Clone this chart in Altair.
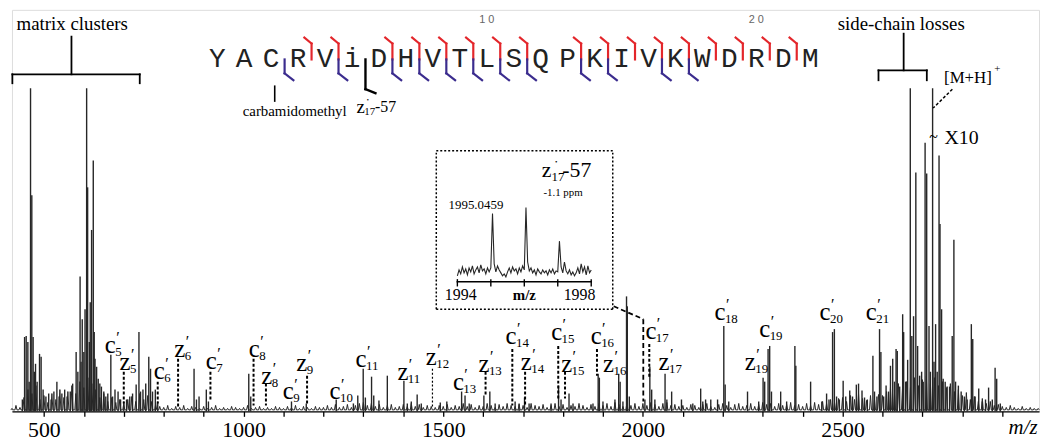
import altair as alt
import pandas as pd

# ------------------------------------------------------------------ data
# baseline noise of the spectrum, one reading every 10 m/z from 420 (relative intensity)
NOISE_MZ0, NOISE_STEP = 420, 10
noise_int = [3, 6, 4, 14, 22, 18, 26, 12,
             16, 9, 18, 12, 22, 14, 20, 26, 18, 30,
             24, 34, 28, 22, 14, 18, 10, 14, 9, 12,
             8, 12, 15, 10, 18, 12, 16, 10, 8, 5,
             4, 6, 3, 5, 4, 6, 3, 5, 4, 3,
             5, 3, 4, 6, 3, 4, 3, 5, 4, 3,
             4, 6, 3, 4, 5, 3, 4, 3, 5, 4,
             3, 5, 4, 6, 3, 5, 4, 3, 5, 4,
             4, 6, 4, 7, 4, 5, 7, 4, 6, 8,
             9, 6, 8, 5, 7, 4, 6, 7, 4, 5,
             7, 5, 8, 5, 7, 4, 6, 5, 4, 6,
             5, 7, 4, 6, 5, 8, 5, 7, 4, 6,
             5, 8, 6, 4, 7, 5, 8, 6, 5, 7,
             6, 4, 8, 6, 5, 7, 4, 6, 8, 5,
             7, 4, 6, 5, 8, 6, 4, 7, 5, 8,
             6, 8, 5, 9, 7, 5, 9, 6, 8, 5,
             8, 6, 9, 7, 5, 8, 9, 6, 7, 5,
             6, 4, 7, 6, 4, 7, 8, 5, 4, 7,
             8, 6, 4, 7, 8, 5, 6, 8, 5, 7,
             9, 7, 8, 5, 8, 6, 7, 9, 6, 7,
             5, 8, 6, 9, 7, 10, 8, 12, 9, 13,
             14, 10, 16, 12, 18, 13, 11, 16, 12, 17,
             16, 20, 24, 18, 28, 22, 30, 24, 34, 26,
             32, 36, 28, 34, 26, 30, 24, 28, 20, 22,
             16, 19, 12, 15, 10, 13, 8, 10, 6, 7,
             5, 4, 6, 4, 3, 5, 3, 4, 3, 3]

# (m/z, intensity) of the resolved peaks
peaks_matrix = [(446, 12), (451.6, 75), (455.6, 76), (459.8, 70), (463, 30), (466.5, 326),
                (469.7, 218), (473, 75), (476, 40), (479, 48), (483, 30), (489, 58), (493, 55),
                (498, 22), (505, 15), (512, 18), (518, 12), (525, 20), (532.5, 30), (538, 15),
                (545, 18), (552, 22), (558, 15), (566, 20), (572, 28), (580.7, 60), (585, 40),
                (590.6, 136), (593, 50), (596, 93), (600, 60), (603, 103), (607, 326),
                (609.5, 226), (613.7, 70), (616, 110), (619.4, 183), (623.6, 253), (626, 80),
                (628, 53), (632, 45), (636, 33), (640, 28), (644, 25), (650, 20), (655, 15),
                (660, 18), (667.6, 57), (672, 15), (678, 22), (685.7, 20), (692, 12), (700, 10),
                (707, 12), (715, 15), (722, 18), (731, 27), (738, 80), (742, 20), (748, 22),
                (755, 28), (762.6, 55), (767, 43), (772, 20), (779, 22), (785, 10)]
peaks_fragments = [(876, 43), (882, 12), (888.5, 15), (906.7, 22), (912, 10), (1013, 38),
                   (1018, 15), (1120, 10), (1157, 8), (1232, 12), (1275, 8), (1286, 16),
                   (1299.6, 43), (1305, 14), (1320.5, 35), (1326, 16), (1339, 11), (1360, 36),
                   (1401.5, 31), (1410, 8), (1420, 10), (1434.7, 17), (1445, 8), (1492.6, 9),
                   (1509, 10), (1546, 20), (1554.6, 16), (1565, 8), (1601.8, 16), (1616.7, 20),
                   (1630, 8), (1680, 10), (1690, 8), (1703.6, 14), (1715, 8), (1770, 8),
                   (1788.8, 26), (1795, 12), (1815, 18), (1825, 8), (1875, 8), (1888, 38),
                   (1891, 34), (1900, 10), (1930, 12), (1939.4, 38), (1943, 30), (1950, 10),
                   (1959, 116), (1961, 106), (1966, 15), (2005, 12), (2017.4, 45), (2022, 22),
                   (2030, 12), (2055.5, 38), (2060, 12), (2072, 20), (2096.6, 12), (2125, 8),
                   (2144.7, 23), (2150, 10), (2157, 12), (2170, 12), (2187, 12), (2202.6, 86),
                   (2206, 27), (2215, 10), (2262, 20), (2290, 10), (2301, 34), (2305, 30),
                   (2313.5, 63), (2317.5, 66), (2322, 20), (2345, 20), (2360, 10), (2380.6, 66),
                   (2383, 46), (2420, 30), (2448, 10)]
peaks_precursor = [(2460, 18), (2466, 12), (2475, 80), (2479.5, 83), (2485, 15), (2492, 12),
                   (2501.5, 31), (2508, 15), (2518, 21), (2525, 15), (2534.5, 27), (2540, 28),
                   (2548.7, 21), (2555, 14), (2562, 12), (2576, 56), (2580, 20), (2586, 15),
                   (2592.6, 83), (2596, 60), (2603, 15), (2609, 26), (2615, 20), (2620, 46),
                   (2625.6, 53), (2630, 30), (2634, 63), (2637, 61), (2643, 25), (2650.5, 98),
                   (2653, 80), (2658, 30), (2663, 52), (2669.6, 326), (2673.5, 76), (2677.8, 96),
                   (2683.5, 241), (2688, 66), (2693, 36), (2698, 40), (2702, 30), (2706.7, 271),
                   (2710.7, 240), (2716.5, 86), (2720, 40), (2725.5, 326), (2729, 50),
                   (2733, 88), (2737, 40), (2741.6, 258), (2744, 189), (2748, 103), (2752, 33),
                   (2757, 30), (2762, 25), (2768, 25), (2774.6, 76), (2778.8, 173), (2783, 30),
                   (2790, 26), (2797, 20), (2805, 15), (2812, 12), (2822.5, 88), (2826, 73),
                   (2832, 15), (2841, 23), (2850, 10), (2858, 12), (2865.7, 24), (2875, 12),
                   (2882, 44), (2886, 33), (2895, 8)]

# peptide sequence and observed cleavage sites (after residue n)
sequence = list("YACRViDHVTLSQPKIVKWDRDM")
c_sites = [4, 5, 7, 8, 9, 10, 11, 12, 14, 15, 16, 17, 18, 19, 20, 21, 22]
z_sites = [3, 5, 7, 8, 9, 10, 11, 12, 14, 15, 17, 18]
radical_site = 6
position_marks = [10, 20]

# fragment labels: ion type, index, label m/z, label height
ion_labels = [("c", "5", 666, 67), ("z", "5", 703, 50), ("c", "6", 789, 41), ("z", "6", 840, 63),
              ("c", "7", 919, 51), ("c", "8", 1027, 63), ("z", "8", 1058, 36), ("c", "9", 1112, 20),
              ("z", "9", 1146, 49), ("c", "10", 1229, 20), ("c", "11", 1294, 53),
              ("z", "11", 1399, 40), ("z", "12", 1470, 55), ("c", "13", 1538, 30),
              ("z", "13", 1602, 48), ("c", "14", 1670, 76), ("z", "14", 1708, 50),
              ("c", "15", 1784, 80), ("z", "15", 1809, 48), ("c", "16", 1883, 76),
              ("z", "16", 1914, 48), ("c", "17", 2020, 81), ("z", "17", 2053, 50),
              ("c", "18", 2193, 100), ("c", "19", 2305, 83), ("z", "19", 2269, 50),
              ("c", "20", 2456, 100), ("c", "21", 2572, 100)]
# leader lines: m/z, top, bottom
ion_leaders = [(700, 40, 8), (785, 30, 8), (836, 53, 3), (917, 40, 10), (1025, 53, 6),
               (1056, 28, 6), (1159, 36, 8), (1606, 40, 16), (1673, 63, 6), (1705, 40, 6),
               (1788, 66, 13), (1805, 40, 13), (1885, 63, 36), (2016, 68, 33)]
ion_leaders_thin = [(1473, 43, 5)]

# inset: z17*-57 isotope cluster, one value every 0.05 m/z from 1994
INSET_MZ0, INSET_STEP = 1994.0, 0.05
inset_int = [6, 12, 8, 15, 9, 13, 7, 14, 10, 16, 8, 12, 15, 9, 17, 11, 13, 8, 14, 10,
             14, 69, 18, 10, 16, 12, 9, 6, 8, 5, 10, 14, 9, 15, 11, 13, 8, 14, 10, 16,
             12, 75, 20, 11, 14, 9, 12, 7, 13, 10, 8, 12, 9, 11, 7, 12, 9, 13, 8, 11,
             10, 41, 15, 9, 20, 11, 8, 12, 7, 10, 6, 9, 14, 8, 18, 10, 15, 7, 16, 9,
             12]
inset_ticks = [1994, 1995, 1996, 1997, 1998]

# ------------------------------------------------------------------ style / layout
SERIF = "Liberation Serif"
MONO = "Liberation Mono"
SPEC = "#262626"
RED = "#e3262b"
BLUE = "#3b2c8e"
XDOM = [420, 2992]
YDOM = [0, 405]
SEQ_X0, SEQ_STEP, SEQ_Y = 934, 67.5, 355
INSET_X0, INSET_K, INSET_Y0 = 1535.4, 83.8, 130.7
SPIKE_HALF = 2.5   # half width of a noise spike, in m/z
FOOT = 1.5         # baseline level between noise spikes

x_axis = alt.Axis(values=list(range(500, 3000, 100)), format="d",
                  labelExpr="datum.value % 500 === 0 ? datum.label : ''",
                  tickSize=5, tickWidth=1.3, tickColor="black",
                  domainColor="black", domainWidth=1.5,
                  labelFont=SERIF, labelFontSize=22, labelColor="black", labelPadding=3,
                  labelFlush=False, labelOverlap=False, grid=False, title=None)
X = alt.X("x:Q", scale=alt.Scale(domain=XDOM, nice=False, zero=False), axis=x_axis)
Y = alt.Y("y:Q", scale=alt.Scale(domain=YDOM, nice=False, zero=False), axis=None)


def segs(rows, color="black", width=1.8, dash=None, cap="square"):
    df = pd.DataFrame(rows, columns=["x", "y", "x2", "y2"])
    kw = dict(color=color, strokeWidth=width, strokeCap=cap)
    if dash:
        kw["strokeDash"] = dash
    return alt.Chart(df).mark_rule(**kw).encode(x=X, y=Y, x2="x2:Q", y2="y2:Q")


def texts(rows, align="center", font=SERIF, style="normal", weight="normal",
          dx=0, dy=0, color="black", baseline="middle"):
    df = pd.DataFrame(rows, columns=["t", "x", "y", "s"])
    return alt.Chart(df).mark_text(align=align, baseline=baseline, font=font,
                                   fontStyle=style, fontWeight=weight, dx=dx, dy=dy,
                                   color=color).encode(
        x=X, y=Y, text="t:N", size=alt.Size("s:Q", scale=None, legend=None))


layers = []

# spectrum: noise readings drawn as narrow spikes on the baseline, peaks as sticks
trace = []
for i, v in enumerate(noise_int):
    m = NOISE_MZ0 + i * NOISE_STEP
    trace += [(m - SPIKE_HALF, FOOT), (m, v), (m + SPIKE_HALF, FOOT)]
noise_df = pd.DataFrame(trace, columns=["x", "y"])
layers.append(alt.Chart(noise_df).mark_line(color=SPEC, strokeWidth=1).encode(
    x=X, y=Y, order="x:Q"))
peaks = peaks_matrix + peaks_fragments + peaks_precursor
peaks_df = pd.DataFrame(peaks, columns=["x", "y"])
peaks_df["y0"] = 0
layers.append(alt.Chart(peaks_df).mark_rule(color=SPEC, strokeWidth=1.4).encode(
    x=X, y=Y, y2="y0:Q"))

# inset
inset_df = pd.DataFrame({"m": [INSET_MZ0 + i * INSET_STEP for i in range(len(inset_int))],
                         "h": inset_int})
layers.append(alt.Chart(inset_df).transform_calculate(
    x=f"{INSET_X0} + (datum.m - {INSET_MZ0}) * {INSET_K}",
    y=f"{INSET_Y0} + datum.h").mark_line(color=SPEC, strokeWidth=1.1).encode(x=X, y=Y))


def ix(m):
    return INSET_X0 + (m - INSET_MZ0) * INSET_K


layers.append(segs([(ix(1994), INSET_Y0, ix(1998), INSET_Y0)], width=1.6))
layers.append(segs([(ix(t), INSET_Y0 + 2, ix(t), INSET_Y0 - 4) for t in inset_ticks], width=1.4))
layers.append(texts([("1994", ix(1994.1), INSET_Y0 - 13, 16),
                     ("1998", ix(1997.65), INSET_Y0 - 13, 16)]))
layers.append(texts([("m/z", ix(1996.0), INSET_Y0 - 13, 15)], weight="bold"))
# inset frame (dotted)
bx0, bx1, by0, by1 = 1482.6, 1924.5, 103, 263
layers.append(segs([(bx0, by0, bx1, by0), (bx0, by1, bx1, by1), (bx0, by0, bx0, by1),
                    (bx1, by0, bx1, by1)], width=1.5, dash=[2, 2], cap="butt"))
layers.append(segs([(1927, 106, 2001, 93), (2001, 93, 2001, 10)], width=1.8, dash=[5, 3],
                   cap="butt"))
layers.append(texts([("1995.0459", 1582, 208, 13), ("-1.1 ppm", 1800, 220, 11)]))
layers.append(texts([("z", 1759, 243, 22)]))
layers.append(texts([("17", 1771, 236, 13), ("-57", 1798, 243, 22)], align="left"))
layers.append(texts([("•", 1783, 252, 7)]))

# sequence
seq_df = [(a, SEQ_X0 + i * SEQ_STEP, SEQ_Y, 28) for i, a in enumerate(sequence)]
layers.append(texts(seq_df, font=MONO, color="#222"))
layers.append(texts([(" ".join(str(p)), SEQ_X0 + p * SEQ_STEP, 395, 11) for p in position_marks],
                    font="Liberation Sans", color="#666"))


def gap_x(g):
    return SEQ_X0 + (g - 0.5) * SEQ_STEP


red_rows, blue_rows = [], []
for g in c_sites:
    gx = gap_x(g)
    red_rows += [(gx - 18, 377, gx, 371), (gx, 371, gx, 355)]
for g in z_sites:
    gx = gap_x(g)
    blue_rows += [(gx, 355, gx, 341), (gx, 341, gx + 22, 334)]
layers.append(segs(red_rows, color=RED, width=2.2))
layers.append(segs(blue_rows, color=BLUE, width=2.2))
gr = gap_x(radical_site)
layers.append(segs([(gr, 355, gr, 325), (gr, 325, gr + 25, 321)], width=2.4))
layers.append(texts([("z", gr - 12, 307, 19)]))
layers.append(texts([("17", gr - 3, 302, 11), ("-57", gr + 24, 307, 16)], align="left"))
layers.append(texts([("•", gr + 6, 314, 6)]))
layers.append(segs([(1078, 328, 1078, 313)], width=1.6))
layers.append(texts([("carbamidomethyl", 1128, 303, 15)]))

# brackets and big labels
layers.append(segs([(421, 340, 740, 340), (421, 340, 421, 331), (740, 340, 740, 331),
                    (569, 340, 569, 378),
                    (2590, 344, 2711, 344), (2590, 344, 2590, 334), (2711, 344, 2711, 334),
                    (2653, 344, 2653, 381)], width=1.8))
layers.append(texts([("matrix clusters", 571, 391, 19), ("side-chain losses", 2647, 391, 19),
                     ("[M+H]", 2814, 336, 17), ("X10", 2798, 276, 20), ("~", 2728, 277, 16)]))
layers.append(texts([("+", 2880, 345, 11)], align="left"))
layers.append(segs([(2775, 325, 2727, 306)], width=1.5, dash=[3, 2], cap="butt"))

# fragment ion labels
layers.append(texts([(t, x, y, 25) for t, n, x, y in ion_labels]))
layers.append(texts([(n, x, y, 13) for t, n, x, y in ion_labels], align="left", dx=5, dy=7))
layers.append(texts([("\u2032", x, y, 16) for t, n, x, y in ion_labels], align="left",
                    dx=6, dy=-7))
layers.append(segs([(x, a, x, b) for x, a, b in ion_leaders], width=2, dash=[3, 2], cap="butt"))
layers.append(segs([(x, a, x, b) for x, a, b in ion_leaders_thin], width=1.2, dash=[2, 2],
                   cap="butt"))

# axis title
layers.append(texts([("m/z", 2952, -17, 21)], style="italic"))

chart = alt.layer(*layers).properties(
    width=1036, height=405, padding=0
).configure_view(stroke=None).configure(background="white")

chart.save("out.html", embed_options={"renderer": "svg", "actions": False})
